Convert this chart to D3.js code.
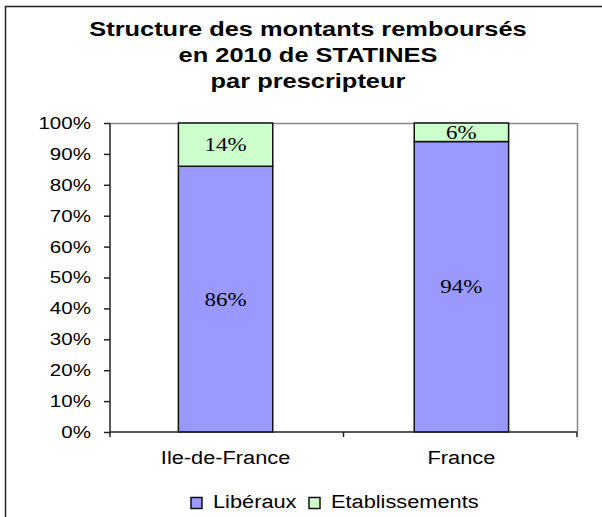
<!DOCTYPE html>
<meta charset="utf-8">
<head>
	<style>
		body { margin: 0; background: #fff; }
		text { font-family: "Liberation Sans", Arial, sans-serif; fill: #000; }
		.lbl { font-family: "Liberation Serif", "Times New Roman", serif; }
	</style>
	<title>Structure des montants remboursés</title>
</head>
<svg width="602" height="517"></svg>
<script src="https://cdn.jsdelivr.net/npm/d3@7/dist/d3.min.js"></script>
<script>

var categories = ["Ile-de-France", "France"];
var liberaux = [86, 94];
var etablissements = [14, 6];
var seriesNames = ["Libéraux", "Etablissements"];
var seriesColors = ["#9999ff", "#ccffcc"];
var yTicks = [0, 10, 20, 30, 40, 50, 60, 70, 80, 90, 100];
var titleLines = ["Structure des montants remboursés", "en 2010 de STATINES", "par prescripteur"];

var svg = d3.select("svg");
var stretchK = 1.21;

// the original text is a bit wider than the fonts we have
function stretch(sel) {
    sel.each(function() {
        var x = +this.getAttribute("x") || 0;
        d3.select(this).attr("transform", "translate(" + (x * (1 - stretchK)) + ",0) scale(" + stretchK + ",1)");
    });
}

// outer frame
svg.append("rect")
   .attr("x", 5.5).attr("y", 6.5)
   .attr("width", 610).attr("height", 520)
   .attr("fill", "none").attr("stroke", "#222").attr("stroke-width", 1.5);

svg.selectAll(".title")
   .data(titleLines)
   .enter().append("text")
   .attr("class", "title")
   .attr("x", 308)
   .attr("y", function(d, i) { return 36 + i * 26; })
   .attr("text-anchor", "middle")
   .attr("font-size", "21px")
   .attr("font-weight", "bold")
   .text(function(d) { return d; })
   .call(stretch);

var pLeft = 110, pRight = 577, pTop = 123, pBottom = 432;

var xScale = d3.scaleBand().domain(categories).range([pLeft, pRight]).paddingInner(0.6).paddingOuter(0.29);
var yScale = d3.scaleLinear().domain([0, 100]).range([pBottom, pTop]);

var rows = categories.map(function(c, i) {
    return { cat: c, Liberaux: liberaux[i], Etablissements: etablissements[i] };
});
var stack = d3.stack().keys(["Liberaux", "Etablissements"])(rows);

// plot frame (top and right in grey)
svg.append("path")
   .attr("d", "M" + pLeft + "," + (pTop + 0.5) + "H" + (pRight + 0.5) + "V" + pBottom)
   .attr("fill", "none").attr("stroke", "#888").attr("stroke-width", 1.5);

var g = svg.append("g");
stack.forEach(function(s, si) {
    g.selectAll(".bar" + si)
     .data(s)
     .enter().append("rect")
     .attr("x", function(d) { return xScale(d.data.cat); })
     .attr("y", function(d) { return yScale(d[1]); })
     .attr("width", xScale.bandwidth())
     .attr("height", function(d) { return yScale(d[0]) - yScale(d[1]); })
     .attr("fill", seriesColors[si])
     .attr("stroke", "#111").attr("stroke-width", 1.5);
});
stack.forEach(function(s, si) {
    g.selectAll(".lab" + si)
     .data(s)
     .enter().append("text")
     .attr("class", "lbl")
     .attr("x", function(d) { return xScale(d.data.cat) + xScale.bandwidth() / 2; })
     .attr("y", function(d) { return (yScale(d[0]) + yScale(d[1])) / 2; })
     .attr("dy", "0.35em")
     .attr("text-anchor", "middle")
     .attr("font-size", "19px")
     .text(function(d) { return (d[1] - d[0]) + "%"; })
     .call(stretch);
});

var yAxis = svg.append("g")
   .attr("transform", "translate(" + pLeft + ",0)")
   .call(d3.axisLeft(yScale).tickValues(yTicks).tickSize(6).tickPadding(13)
         .tickFormat(function(d) { return d + "%"; }));
yAxis.select(".domain").attr("stroke", "#222").attr("stroke-width", 1.5).attr("d", "M0," + pTop + "V" + pBottom);
yAxis.selectAll(".tick line").attr("stroke", "#222").attr("stroke-width", 1.5);
yAxis.selectAll("text").attr("font-size", "17px").attr("font-family", "Liberation Sans, Arial, sans-serif").attr("fill", "#000").call(stretch);

var xAxis = svg.append("g")
   .attr("transform", "translate(0," + pBottom + ")")
   .call(d3.axisBottom(xScale).tickSize(0).tickPadding(19));
xAxis.select(".domain").attr("stroke", "#222").attr("stroke-width", 1.5).attr("d", "M" + pLeft + ",0H" + pRight);
xAxis.selectAll("text").attr("font-size", "18px").attr("font-family", "Liberation Sans, Arial, sans-serif").attr("fill", "#000").call(stretch);
// category separators
xAxis.selectAll(".sep")
   .data([pLeft, (pLeft + pRight) / 2, pRight])
   .enter().append("line")
   .attr("x1", function(d) { return d; }).attr("x2", function(d) { return d; })
   .attr("y1", 0).attr("y2", 5)
   .attr("stroke", "#222").attr("stroke-width", 1.5);

// legend
var legend = svg.append("g");
var legX = [191, 309];
seriesNames.forEach(function(n, i) {
    legend.append("rect")
      .attr("x", legX[i]).attr("y", 497.5)
      .attr("width", 11).attr("height", 11)
      .attr("fill", seriesColors[i]).attr("stroke", "#111").attr("stroke-width", 1.5);
    legend.append("text")
      .attr("x", legX[i] + 22).attr("y", 508)
      .attr("font-size", "18px")
      .text(n)
      .call(stretch);
});

</script>
